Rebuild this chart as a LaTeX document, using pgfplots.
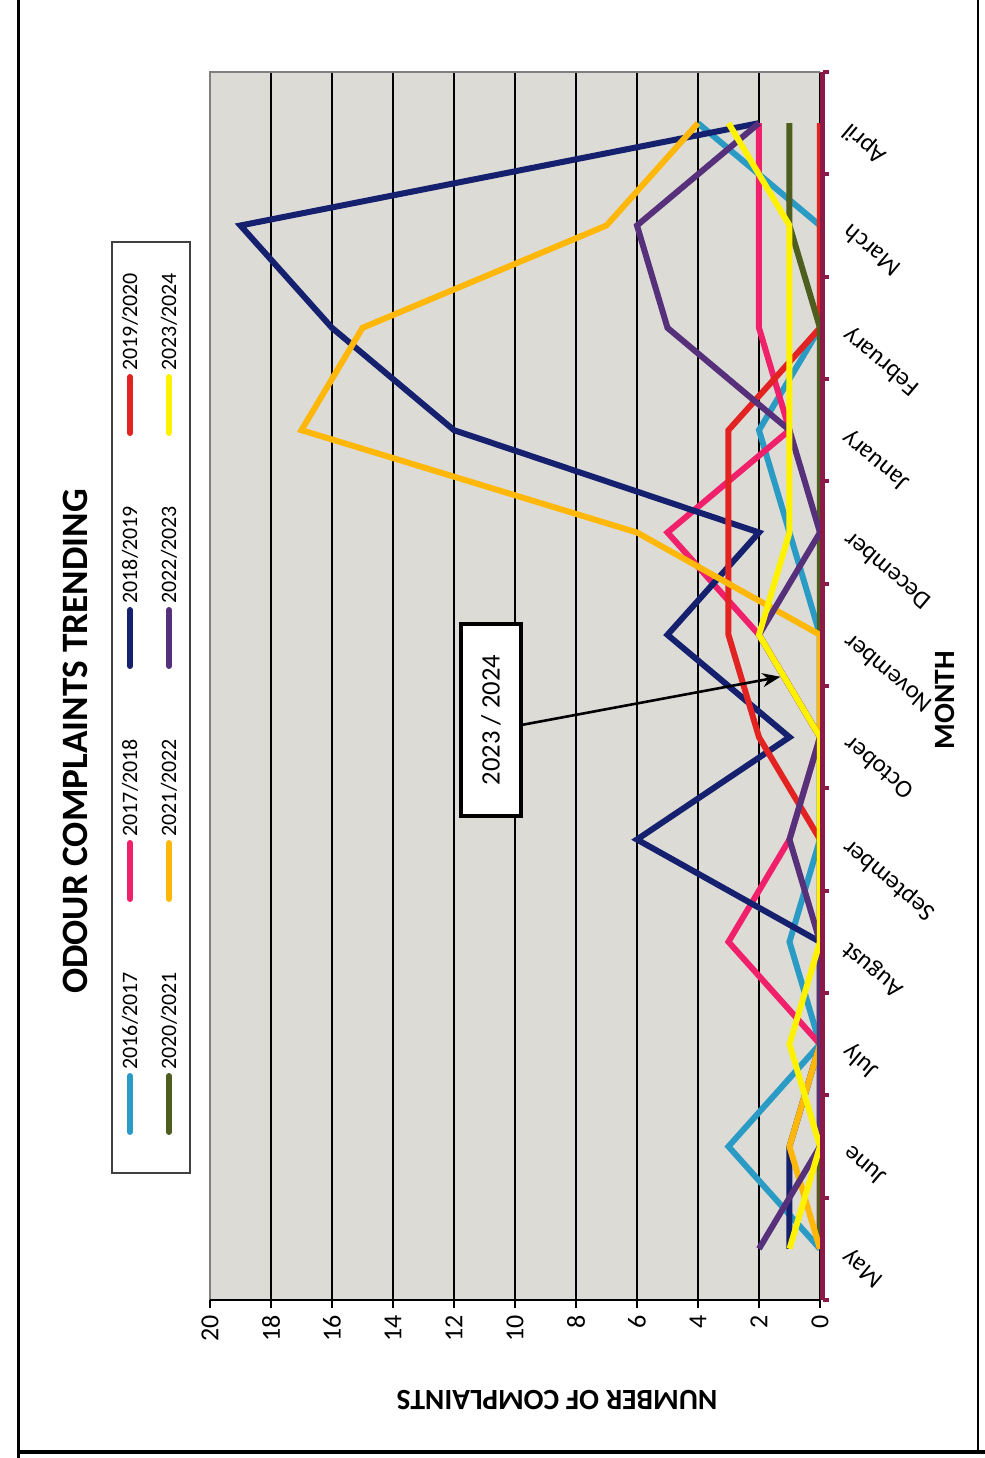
\documentclass[border=0pt]{standalone}
\usepackage{pgfplots}
\usepackage{pgfplotstable}
\pgfplotsset{compat=1.18}
\usetikzlibrary{arrows.meta}
\usepackage{fontspec}
\setmainfont{Carlito}
\definecolor{cTeal}{HTML}{2A9BC4}
\definecolor{cPink}{HTML}{F0206A}
\definecolor{cNavy}{HTML}{15206E}
\definecolor{cRed}{HTML}{E32322}
\definecolor{cOlive}{HTML}{4E5E1E}
\definecolor{cOrange}{HTML}{FFB80A}
\definecolor{cPurple}{HTML}{56307A}
\definecolor{cYellow}{HTML}{FFF200}
\definecolor{cAxis}{HTML}{8C1A48}
\definecolor{cBg}{HTML}{DCDBD6}
\pgfplotstableread{
m teal pink navy red olive orange purple yellow
0 0 0 1 0 0 0 2 1
1 3 0 1 0 0 1 0 0
2 0 0 0 0 0 0 0 1
3 1 3 0 0 0 0 0 0
4 0 1 6 0 0 0 1 0
5 0 0 1 2 0 0 0 0
6 0 2 5 3 0 0 2 2
7 1 5 2 3 0 6 0 1
8 2 1 12 3 0 17 1 1
9 0 2 16 0 0 15 5 1
10 0 2 19 0 1 7 6 1
11 4 2 2 0 1 4 2 3
}\datatable
\newcommand{\legitem}[4]{%
  \draw[#3, line width=3pt, line cap=round] (#1,#2) -- (#1,#2+28pt);
  \node[rotate=90, anchor=west, inner sep=0pt, font=\fontsize{11}{12}\selectfont] at (#1,#2+31pt) {#4};}
\begin{document}
\begin{tikzpicture}
\path[use as bounding box] (0pt,0pt) rectangle (492.5pt,729pt);
\draw[line width=1.5pt] (9pt,0pt) -- (9pt,729pt);
\draw[line width=2pt] (9pt,3pt) -- (492.5pt,3pt);
\draw[line width=1.2pt] (489pt,3pt) -- (489pt,729pt);
\begin{axis}[
  at={(105pt,79pt)}, anchor=south west,
  scale only axis, width=305pt, height=614pt,
  x dir=reverse,
  xmin=0, xmax=20, ymin=-0.5, ymax=11.5,
  clip=false,
  axis background/.style={fill=cBg},
  axis line style={draw=none},
  ytick={0,...,11},
  yticklabels={May,June,July,August,September,October,November,December,January,February,March,April},
  major y tick style={draw=none},
  minor ytick={-0.5,0.5,...,11.5},
  minor y tick style={draw=cAxis, line width=2pt, xshift=1.5pt},
  minor tick length=3pt,
  ytick pos=right,
  xtick={0,2,...,20},
  xtick pos=bottom,
  major x tick style={black, line width=0.6pt},
  major tick length=4pt,
  tick align=outside,
  xmajorgrids, major grid style={black, line width=0.7pt},
  yticklabel style={font=\fontsize{12.5}{13}\selectfont, xshift=6.5pt, rotate=140, anchor=east},
  xticklabel style={font=\fontsize{13}{13}\selectfont, rotate=90, anchor=east},
  /pgf/number format/assume math mode=true,
  xlabel={NUMBER OF COMPLAINTS},
  xlabel style={at={(axis description cs:0.569,-0.0814)}, anchor=center, rotate=180, font=\bfseries\fontsize{14.7}{16}\selectfont},
  ylabel={MONTH},
  ylabel style={at={(axis description cs:1.205,0.4886)}, anchor=center, rotate=0, font=\bfseries\fontsize{14.7}{16}\selectfont},
  title={ODOUR COMPLAINTS TRENDING},
  title style={at={(axis description cs:-0.221,0.445)}, anchor=center, rotate=90, font=\bfseries\fontsize{18.6}{20}\selectfont},
]
\draw[gray, line width=1pt] (axis cs:0,11.5) -- (axis cs:20,11.5) -- (axis cs:20,-0.5);
\draw[black, line width=0.8pt] (axis cs:20,-0.5) -- (axis cs:0,-0.5);
\addplot[cTeal, line width=3pt] table[x=teal,y=m]{\datatable};
\addplot[cPink, line width=3pt] table[x=pink,y=m]{\datatable};
\addplot[cNavy, line width=3pt] table[x=navy,y=m]{\datatable};
\addplot[cRed, line width=3pt] table[x=red,y=m]{\datatable};
\addplot[cOlive, line width=3pt] table[x=olive,y=m]{\datatable};
\addplot[cOrange, line width=3pt] table[x=orange,y=m]{\datatable};
\addplot[cPurple, line width=3pt] table[x=purple,y=m]{\datatable};
\addplot[cYellow, line width=3pt] table[x=yellow,y=m]{\datatable};
\draw[cAxis, line width=2.5pt, xshift=1.5pt] (axis cs:0,-0.5) -- (axis cs:0,11.5);
\draw[-{Stealth[length=9pt,width=7pt]}, line width=1.3pt] (axis cs:9.77,5.12) -- (axis cs:1.30,5.59);
\node[draw=black, line width=2.2pt, fill=white, minimum width=96pt, minimum height=30pt, inner sep=0pt, rotate=90, font=\fontsize{13.3}{14}\selectfont] at (axis cs:10.79,5.168) {2023 / 2024};
\end{axis}
% legend
\draw[black!75, line width=0.8pt, fill=white] (56pt,142.5pt) rectangle (95pt,608pt);
\legitem{65pt}{163pt}{cTeal}{2016/2017}
\legitem{65pt}{279.5pt}{cPink}{2017/2018}
\legitem{65pt}{396pt}{cNavy}{2018/2019}
\legitem{65pt}{512.5pt}{cRed}{2019/2020}
\legitem{84.5pt}{163pt}{cOlive}{2020/2021}
\legitem{84.5pt}{279.5pt}{cOrange}{2021/2022}
\legitem{84.5pt}{396pt}{cPurple}{2022/2023}
\legitem{84.5pt}{512.5pt}{cYellow}{2023/2024}
\end{tikzpicture}
\end{document}
